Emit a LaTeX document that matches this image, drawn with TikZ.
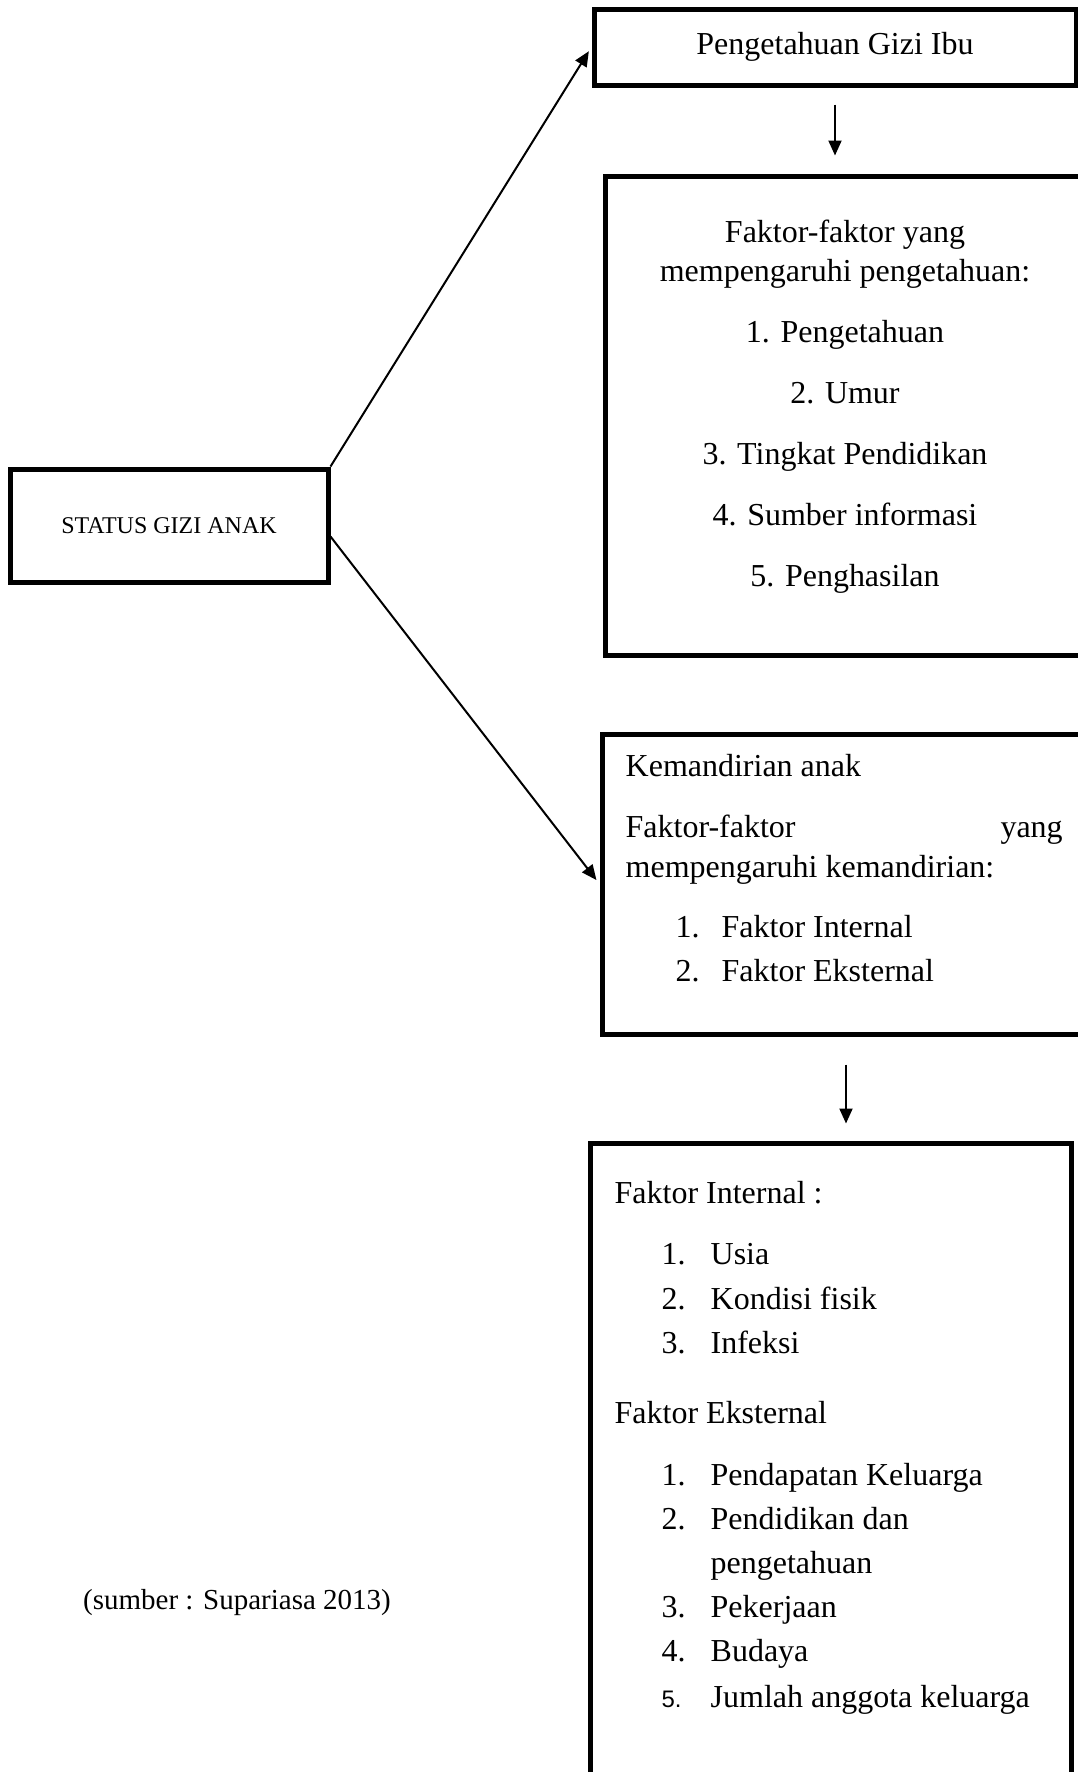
\documentclass[tikz,border=0pt]{standalone}
\usepackage{fontspec}
\setmainfont{Liberation Serif}
\newfontfamily\sansnum{Liberation Sans}
\usetikzlibrary{arrows.meta}
\usetikzlibrary{calc}

\begin{document}
\begin{tikzpicture}[thick]
        \tikzset{
            box/.style={shape=rectangle, draw=black, line width=0.1cm, inner sep=0pt},
            txt/.style={inner sep=0pt, font=\fontsize{18.2}{22}\selectfont},
            link/.style={line width=0.04cm, -{Triangle[width=0.26cm,length=0.3cm]}},
        }
        \useasboundingbox (0,0) rectangle (21.56,-35.44);
        \clip (0,0) rectangle (21.56,-35.44);

        % boxes
        \node (ibu) at (16.70,-0.94) [box, txt, minimum width=9.64cm, minimum height=1.52cm] {Pengetahuan Gizi Ibu};
        \node (fpeng) at (16.95,-8.31) [box, minimum width=9.70cm, minimum height=9.58cm] {};
        \node (status) at (3.38,-10.51) [box, minimum width=6.36cm, minimum height=2.26cm, font=\fontsize{13.66}{16}\selectfont] {STATUS GIZI ANAK};
        \node (mandiri) at (16.92,-17.68) [box, minimum width=9.76cm, minimum height=6.00cm] {};
        \node (faktor) at (16.61,-29.43) [box, minimum width=9.62cm, minimum height=13.14cm] {};

        % faktor pengetahuan
        \node (fp1) at (16.90,-4.77) [txt, anchor=mid] {Faktor-faktor yang};
        \node (fp2) at (16.90,-5.55) [txt, anchor=mid] {mempengaruhi pengetahuan:};
        \node (fp3) at (16.90,-6.77) [txt, anchor=mid] {1. Pengetahuan};
        \node (fp4) at (16.90,-7.99) [txt, anchor=mid] {2. Umur};
        \node (fp5) at (16.90,-9.21) [txt, anchor=mid] {3. Tingkat Pendidikan};
        \node (fp6) at (16.90,-10.43) [txt, anchor=mid] {4. Sumber informasi};
        \node (fp7) at (16.90,-11.65) [txt, anchor=mid] {5. Penghasilan};

        % kemandirian
        \node (km1) at (12.50,-15.45) [txt, anchor=mid west] {Kemandirian anak};
        \node (km2) at (12.50,-16.67) [txt, anchor=mid west] {\makebox[8.74cm]{Faktor-faktor\hfill yang}};
        \node (km3) at (12.50,-17.47) [txt, anchor=mid west] {mempengaruhi kemandirian:};
        \node (km4) at (13.50,-18.67) [txt, anchor=mid west] {\makebox[0.92cm][l]{1.}Faktor Internal};
        \node (km5) at (13.50,-19.55) [txt, anchor=mid west] {\makebox[0.92cm][l]{2.}Faktor Eksternal};

        % faktor internal / eksternal
        \node (fi) at (12.28,-23.99) [txt, anchor=mid west] {Faktor Internal :};
        \node (fi1) at (13.22,-25.21) [txt, anchor=mid west] {\makebox[0.98cm][l]{1.}Usia};
        \node (fi2) at (13.22,-26.11) [txt, anchor=mid west] {\makebox[0.98cm][l]{2.}Kondisi fisik};
        \node (fi3) at (13.22,-26.99) [txt, anchor=mid west] {\makebox[0.98cm][l]{3.}Infeksi};
        \node (fe) at (12.28,-28.39) [txt, anchor=mid west] {Faktor Eksternal};
        \node (fe1) at (13.22,-29.63) [txt, anchor=mid west] {\makebox[0.98cm][l]{1.}Pendapatan Keluarga};
        \node (fe2) at (13.22,-30.51) [txt, anchor=mid west] {\makebox[0.98cm][l]{2.}Pendidikan dan};
        \node (fe2b) at (14.20,-31.39) [txt, anchor=mid west] {pengetahuan};
        \node (fe3) at (13.22,-32.27) [txt, anchor=mid west] {\makebox[0.98cm][l]{3.}Pekerjaan};
        \node (fe4) at (13.22,-33.15) [txt, anchor=mid west] {\makebox[0.98cm][l]{4.}Budaya};
        \node (fe5) at (13.22,-34.07) [txt, anchor=mid west] {\makebox[0.98cm][l]{\sansnum\fontsize{13.6}{16}\selectfont 5.}Jumlah anggota keluarga};

        % source
        \node (src) at (4.74,-32.11) [inner sep=0pt, anchor=mid, font=\fontsize{16.5}{20}\selectfont] {(sumber : Supariasa 2013)};

        % connections
        \draw[link, shorten >=0.1cm] (status.north east) -- (ibu.west);
        \draw[link, shorten >=0.1cm] ([yshift=-0.22cm]status.east) -- (mandiri.west);
        \draw[link, shorten <=0.34cm, shorten >=0.36cm] (ibu.south) -- (ibu.south |- fpeng.north);
        \draw[link, shorten <=0.56cm, shorten >=0.34cm] (mandiri.south) -- (mandiri.south |- faktor.north);
    \end{tikzpicture}
\end{document}
